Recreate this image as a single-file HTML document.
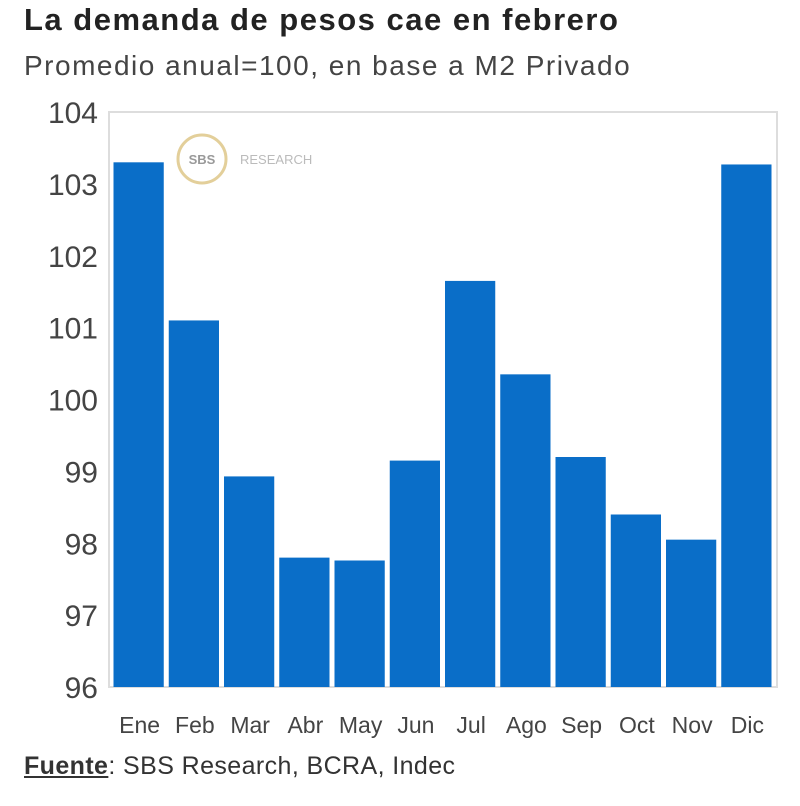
<!DOCTYPE html>
<html><head><meta charset="utf-8"><style>
body{margin:0;background:#fff;width:800px;height:806px;overflow:hidden;font-family:"Liberation Sans",sans-serif}
#title{position:absolute;left:24px;top:2px;font-size:31px;font-weight:bold;color:#222;letter-spacing:1.5px}
#sub{position:absolute;left:24px;top:50px;font-size:28px;color:#444;letter-spacing:1.5px}
#src{position:absolute;left:24px;top:752px;font-size:25px;color:#333;letter-spacing:0.4px}
</style></head><body>
<div id="title">La demanda de pesos cae en febrero</div>
<div id="sub">Promedio anual=100, en base a M2 Privado</div>
<svg id="chart" width="800" height="806" style="position:absolute;left:0;top:0"></svg>
<div id="src"><b><u>Fuente</u></b>: SBS Research, BCRA, Indec</div>
<script>
const categories=["Ene","Feb","Mar","Abr","May","Jun","Jul","Ago","Sep","Oct","Nov","Dic"];
const values=[103.3,101.1,98.93,97.8,97.76,99.15,101.65,100.35,99.2,98.4,98.05,103.27];
const yTicks=[96,97,98,99,100,101,102,103,104];
const NS="http://www.w3.org/2000/svg";
const svg=document.getElementById('chart');
const x0=112,x1=775,yTop=112,yBot=687,yMin=96,yMax=104;
const y=v=>yBot-(v-yMin)/(yMax-yMin)*(yBot-yTop);
const slot=(x1-x0)/categories.length;
const x=i=>x0+i*slot;
function mk(t,a){const e=document.createElementNS(NS,t);for(const k in a)e.setAttribute(k,a[k]);svg.appendChild(e);return e;}
const frame=mk('rect',{x:109,y:yTop,width:x1-109+2,height:yBot-yTop,fill:'none',stroke:'#ddd','stroke-width':2});


const lg=mk('circle',{cx:202,cy:159,r:24,fill:'none',stroke:'#e3cf9a','stroke-width':3});


const lt=mk('text',{x:202,y:164,'text-anchor':'middle','font-size':13,'font-weight':'bold',fill:'#999'});
lt.textContent='SBS';


const lr=mk('text',{x:240,y:164,'font-size':13,fill:'#bbb'});
lr.textContent='RESEARCH';


yTicks.forEach(t=>{
  const e=mk('text',{x:98,y:y(t)+11,'text-anchor':'end','font-size':30,fill:'#444'});
  e.textContent=t;
  
  
});
categories.forEach((c,i)=>{
  const v=values[i];
  const b=mk('rect',{x:x(i)+1.5,y:y(v),width:slot-5,height:yBot-y(v),fill:'#0a6ec8'});
  
  
  const t=mk('text',{x:x(i)+slot/2,y:733,'text-anchor':'middle','font-size':23,fill:'#444'});
  t.textContent=c;
  
  
});
</script>
</body></html>
